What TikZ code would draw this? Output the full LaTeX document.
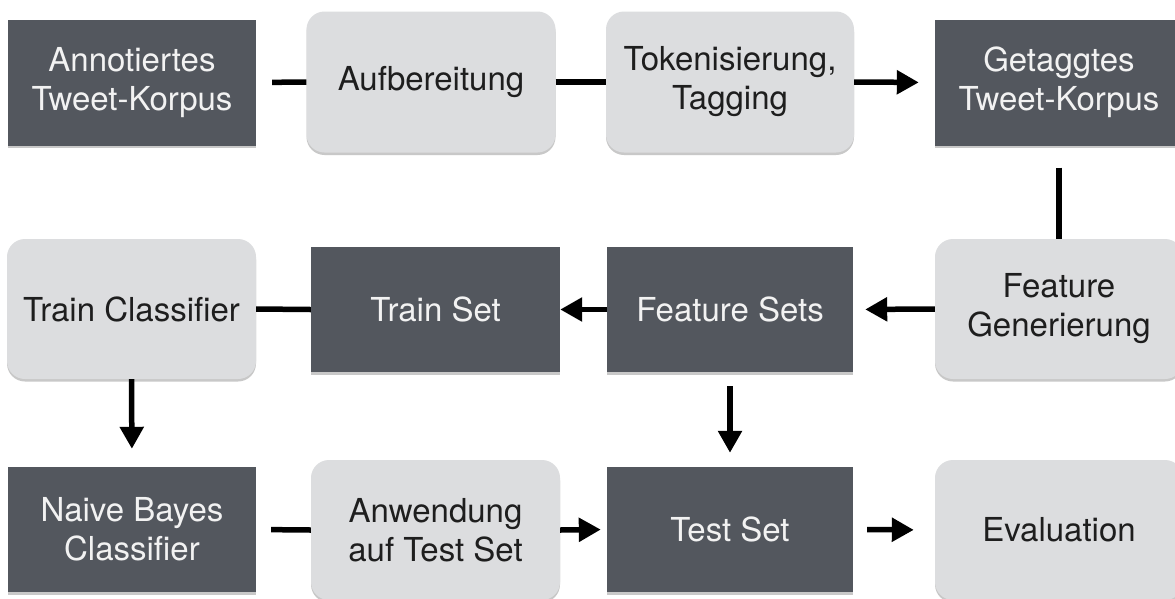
\documentclass[tikz,border=0pt]{standalone}
\usepackage{fontspec}
\setmainfont{TeX Gyre Heros}
\usetikzlibrary{arrows.meta,shadows}
\definecolor{darkbox}{HTML}{53575E}
\definecolor{lightbox}{HTML}{DCDDDF}
\definecolor{darktext}{HTML}{F2F2F2}
\definecolor{lighttext}{HTML}{1E1E1E}
\tikzset{
  boxbase/.style={align=center, inner sep=0pt,
    font=\fontsize{33}{39}\selectfont,
    drop shadow={shadow xshift=0pt, shadow yshift=-2.5pt, opacity=0.3, fill=black!70}},
  darkrect/.style={boxbase, fill=darkbox, text=darktext, minimum height=126pt},
  lightrect/.style={boxbase, fill=lightbox, text=lighttext, rounded corners=18pt, minimum height=141pt},
  conn/.style={line width=5.5pt, draw=black},
  arr/.style={conn, -{Triangle[length=22pt,width=23pt]}}
}
\begin{document}
\begin{tikzpicture}[x=1pt,y=-1pt]
\useasboundingbox[fill=white] (0,0) rectangle (1175,598);
% row 1
\node[darkrect, minimum width=248pt] (ann) at (132,82.5) {Annotiertes\\Tweet-Korpus};
\node[lightrect, minimum width=249pt] (auf) at (431,82) {Aufbereitung};
\node[lightrect, minimum width=248pt] (tok) at (730,82) {Tokenisierung,\\Tagging};
\node[darkrect, minimum width=248pt] (get) at (1059,82.5) {Getaggtes\\Tweet-Korpus};
% row 2
\node[lightrect, minimum width=249pt, minimum height=140pt] (trc) at (131.5,309) {Train Classifier};
\node[darkrect, minimum width=249pt, minimum height=125pt] (trs) at (435.5,309.5) {Train Set};
\node[darkrect, minimum width=246pt, minimum height=125pt] (fs) at (730,309.5) {Feature Sets};
\node[lightrect, minimum width=248pt, minimum height=140pt] (fg) at (1059,309) {Feature\\Generierung};
% row 3
\node[darkrect, minimum width=248pt, minimum height=125pt] (nb) at (132,529.5) {Naive Bayes\\Classifier};
\node[lightrect, minimum width=249pt, minimum height=140pt] (anw) at (435.5,530) {Anwendung\\auf Test Set};
\node[darkrect, minimum width=246pt, minimum height=125pt] (ts) at (730,529.5) {Test Set};
\node[lightrect, minimum width=248pt, minimum height=140pt] (ev) at (1059,530) {Evaluation};
% connectors row 1
\draw[conn, shorten <=16pt] (ann.east) -- (auf.west);
\draw[conn] (auf.east) -- (tok.west);
\draw[arr, shorten >=16pt] (tok.east) -- (get.west);
\draw[conn, shorten <=22pt] (get.south -| fg.north) -- (fg.north);
% row 2
\draw[conn] (trc.east) -- (trs.west);
\draw[arr] (fs.west) -- (trs.east);
\draw[arr, shorten >=12pt] (fg.west) -- (fs.east);
\draw[arr, shorten >=18pt] (trc.south) -- (nb.north);
\draw[arr, shorten <=14pt, shorten >=14pt] (fs.south) -- (ts.north);
% row 3
\draw[conn, shorten <=15pt] (nb.east) -- (anw.west);
\draw[arr, shorten >=6pt] (anw.east) -- (ts.west);
\draw[arr, shorten <=14pt, shorten >=21pt] (ts.east) -- (ev.west);
\end{tikzpicture}
\end{document}
